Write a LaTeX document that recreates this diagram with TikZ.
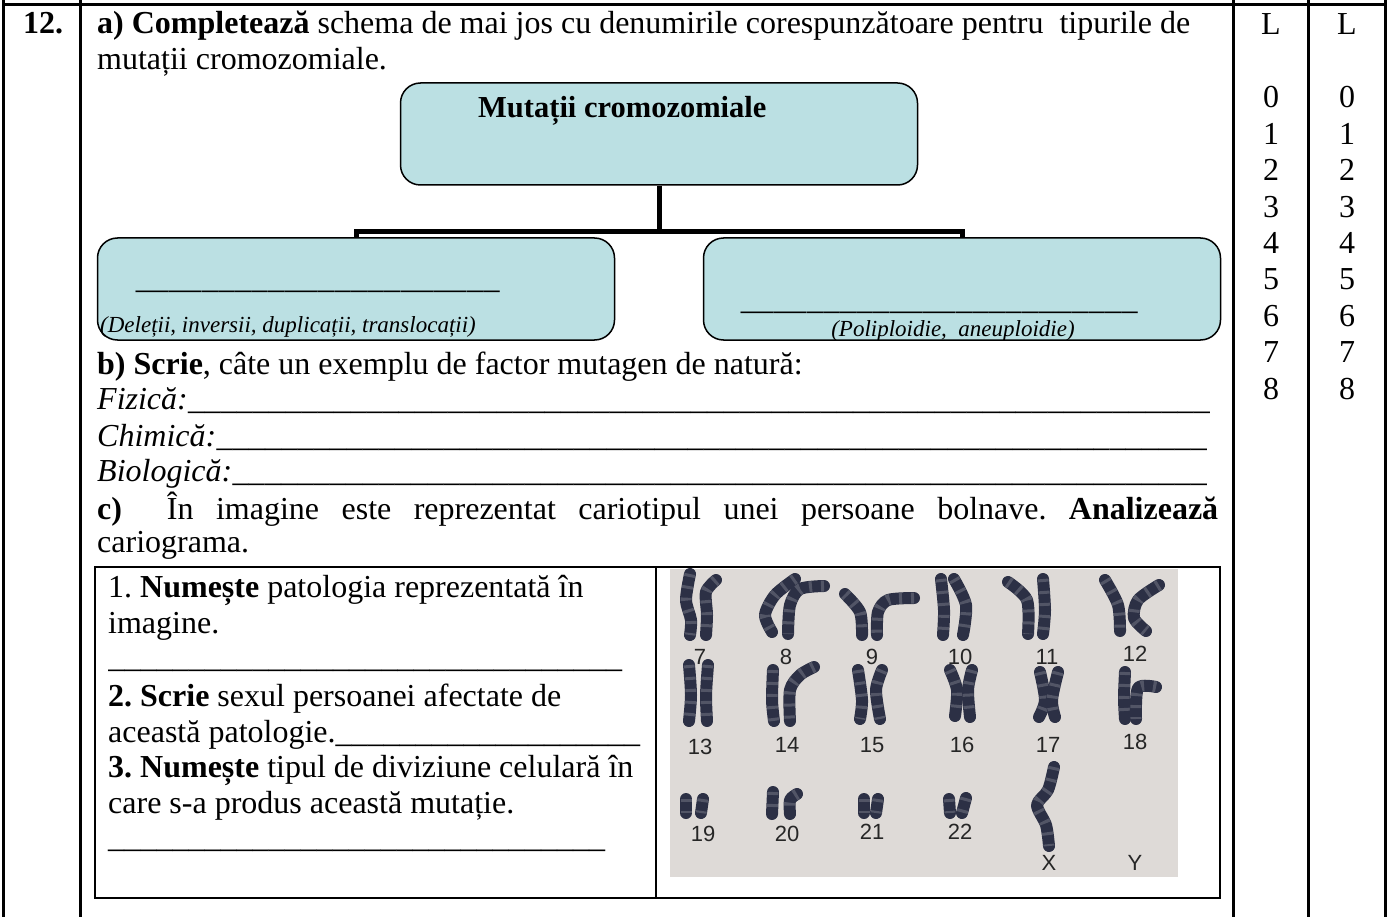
\documentclass[tikz,border=0pt]{standalone}
\usepackage{fontspec}
\setmainfont{Liberation Serif}
\newfontfamily\labelfont{Liberation Sans}
\usetikzlibrary{positioning}
\usepackage{xcolor}
\frenchspacing
\definecolor{boxfill}{HTML}{BBE0E3}
\definecolor{photobg}{HTML}{DEDAD7}
\definecolor{chromcol}{HTML}{2C3045}
\newcommand\blankto[2]{\makebox[#1][l]{#2\xleaders\hbox{\_}\hfill}}
\newcommand\chromatid[1]{\draw[chrom] plot[smooth] coordinates {#1};
  \draw[bands] plot[smooth] coordinates {#1};}
\tikzset{
  grid/.style={line width=3pt},
  schbox/.style={draw, line width=1.5pt, fill=boxfill, rounded corners=20pt,
    minimum width=517pt, minimum height=102pt, inner sep=0pt},
  conn/.style={line width=5pt},
  txt/.style={anchor=base west, inner sep=0pt, font=\fontsize{32}{38}\selectfont},
  num/.style={anchor=base, inner sep=0pt, font=\fontsize{32}{38}\selectfont},
  hint/.style={anchor=base west, inner sep=0pt, font=\fontsize{23}{27}\selectfont\itshape},
  chrom/.style={draw=chromcol, line width=12pt, line cap=round, line join=round},
  bands/.style={draw=white, opacity=.18, line width=11pt, dash pattern=on 3pt off 9pt},
  klabel/.style={anchor=base, inner sep=0pt, font=\labelfont\fontsize{22}{22}\selectfont, text=black!85}
}

\begin{document}
\begin{tikzpicture}[x=1pt, y=-1pt] %item 12, chromosomal mutations
\useasboundingbox (0,0) rectangle (1392,917);
% table grid
\foreach \x in {3,80,1233,1308,1385} \draw[grid] (\x,0) -- (\x,917);
\draw[grid] (2,5) -- (1386,5);
\node[txt] (nr) at (23,34) {\textbf{12.}};
\node[num] (la) at (1271,35) {L};
\node[num] (lb) at (1347,35) {L};
\foreach \d in {0,...,8} {
  \node[num] (da\d) at (1271,{108+36.4*\d}) {\d};
  \node[num] (db\d) at (1347,{108+36.4*\d}) {\d};
}
% part a
\node[txt] (qa1) at (97,34) {\textbf{a) Completează} schema de mai jos cu denumirile corespunzătoare pentru\ \ tipurile de};
\node[txt] (qa2) at (97,70) {mutații cromozomiale.};
\node[schbox] (mc) at (659,134) {};
\node[txt, font=\fontsize{30.5}{36}\selectfont\bfseries] (mct) at (478,118) {Mutații cromozomiale};
\node[schbox] (lbox) at (356,289) {};
\node[schbox] (rbox) at (962,289) {};
\coordinate (bar) at (659,232);
\draw[conn] (mc.south) -- (bar);
\draw[conn] (lbox.north) |- (bar) -| (rbox.north);
\node[txt] (lbl) at (135,289) {\blankto{365pt}{}};
\node[hint] (lhint) at (100,332) {(Deleții, inversii, duplicații, translocații)};
\node[txt] (rbl) at (740,309) {\blankto{398pt}{}};
\node[hint, anchor=base] (rhint) at (953,337) {(Poliploidie,\ \ aneuploidie)};
% part b
\node[txt] (qb) at (97,374) {\textbf{b) Scrie}, câte un exemplu de factor mutagen de natură:};
\node[txt] (fiz) at (97,409) {\blankto{1113pt}{\textit{Fizică:}}};
\node[txt] (chi) at (97,446) {\blankto{1110pt}{\textit{Chimică:}}};
\node[txt] (bio) at (97,481) {\blankto{1110pt}{\textit{Biologică:}}};
% part c
\node[txt] (qc1) at (97,519) {\makebox[1121pt][s]{\textbf{c)}\ \ În imagine este reprezentat cariotipul unei persoane bolnave. \textbf{Analizează}}};
\node[txt] (qc2) at (97,552) {cariograma.};
% karyotype photo
\fill[photobg] (670,569) rectangle (1178,877);
\chromatid{(690,574) (686,600) (691,620) (690,635)}
\chromatid{(716,580) (706,592) (707,615) (706,635)}
\chromatid{(795,579) (775,595) (765,615) (772,632)}
\chromatid{(824,586) (800,589) (790,605) (788,634)}
\chromatid{(845,594) (860,612) (862,635)}
\chromatid{(914,598) (888,600) (878,612) (877,635)}
\chromatid{(941,579) (944,610) (943,635)}
\chromatid{(954,579) (966,605) (963,635)}
\chromatid{(1008,582) (1027,600) (1028,634)}
\chromatid{(1043,579) (1045,610) (1043,634)}
\chromatid{(1105,580) (1118,605) (1120,631)}
\chromatid{(1159,585) (1138,600) (1134,618) (1146,631)}
\chromatid{(689,665) (691,695) (689,721)}
\chromatid{(708,665) (706,695) (707,721)}
\chromatid{(773,670) (772,700) (774,721)}
\chromatid{(814,667) (800,675) (790,690) (790,721)}
\chromatid{(858,670) (862,700) (860,719)}
\chromatid{(882,670) (876,690) (880,719)}
\chromatid{(950,670) (957,690) (955,716)}
\chromatid{(972,670) (968,690) (970,717)}
\chromatid{(1040,672) (1045,700) (1039,717)}
\chromatid{(1058,672) (1052,700) (1055,717)}
\chromatid{(1125,672) (1124,698) (1125,719)}
\chromatid{(1156,687) (1138,688) (1136,719)}
\chromatid{(686,799) (686,813)}
\chromatid{(703,799) (701,813)}
\chromatid{(773,792) (772,814)}
\chromatid{(797,794) (790,800) (790,814)}
\chromatid{(864,799) (864,813)}
\chromatid{(878,799) (876,813)}
\chromatid{(949,799) (950,813)}
\chromatid{(966,798) (962,813)}
\chromatid{(1054,767) (1048,790) (1037,805) (1046,825) (1049,846)}
\foreach \n/\x/\y in {7/700/664, 8/786/664, 9/872/664, 10/960/664, 11/1047/664, 12/1135/661,
  13/700/754, 14/787/752, 15/872/752, 16/962/752, 17/1048/752, 18/1135/749,
  19/703/841, 20/787/841, 21/872/839, 22/960/839, X/1049/870, Y/1135/870}
  \node[klabel] (k\n) at (\x,\y) {\n};
% answer table
\draw[line width=2.5pt] (95,567) rectangle (1220,898);
\draw[line width=2.5pt] (656,567) -- (656,898);
\node[txt] (c1) at (108,597) {1. \textbf{Numește} patologia reprezentată în};
\node[txt] (c2) at (108,633) {imagine.};
\node[txt] (c3) at (108,667) {\blankto{514pt}{}};
\node[txt] (c4) at (108,706) {\textbf{2. Scrie} sexul persoanei afectate de};
\node[txt] (c5) at (108,742) {\blankto{532pt}{această patologie.}};
\node[txt] (c6) at (108,777) {\textbf{3. Numește} tipul de diviziune celulară în};
\node[txt] (c7) at (108,813) {care s-a produs această mutație.};
\node[txt] (c8) at (108,847) {\blankto{497pt}{}};
\end{tikzpicture}
\end{document}
